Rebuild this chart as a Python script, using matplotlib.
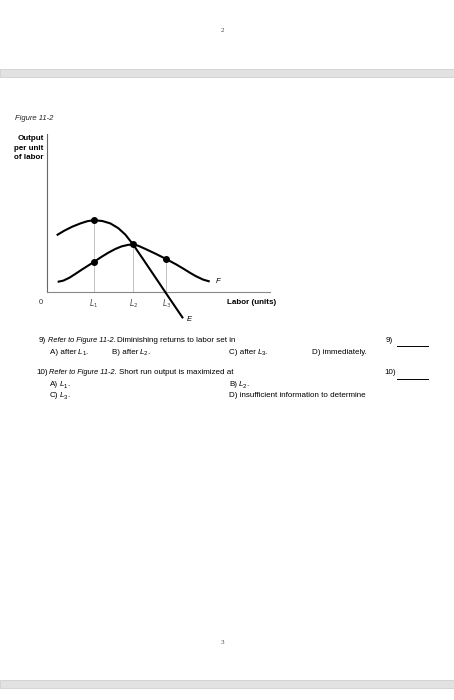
import matplotlib
matplotlib.use("Agg")
import matplotlib.pyplot as plt
from matplotlib.patches import Rectangle

# Page / font setup
plt.rcParams['font.family'] = ['Liberation Sans Narrow', 'Liberation Sans', 'DejaVu Sans']
plt.rcParams['mathtext.fontset'] = 'custom'
plt.rcParams['mathtext.rm'] = 'Liberation Sans Narrow'
plt.rcParams['mathtext.it'] = 'Liberation Sans Narrow:italic'

W, H = 454, 700

# Data (labor units, output per unit of labor)
e_labor = [0.51, 0.9, 1.3, 1.7, 2.05, 2.38, 2.8, 3.2, 3.6, 3.95, 4.34, 4.84, 5.51, 6.09, 6.84]
e_output = [3.56, 3.85, 4.1, 4.3, 4.44, 4.5, 4.45, 4.3, 4.0, 3.6, 2.98, 2.06, 0.82, -0.26, -1.64]

f_labor = [0.56, 0.85, 1.15, 1.45, 1.8, 2.38, 2.75, 3.09, 3.45, 3.76, 4.1, 4.34,
           4.6, 5.01, 5.5, 6.01, 6.5, 6.84, 7.2, 7.51, 7.85, 8.18]
f_output = [0.64, 0.72, 0.9, 1.14, 1.43, 1.89, 2.2, 2.46, 2.7, 2.86, 2.96, 2.98,
            2.9, 2.67, 2.38, 2.06, 1.73, 1.48, 1.2, 0.98, 0.78, 0.66]

tick_pos = [2.38, 4.34, 6.01]
tick_labels = ['$L_1$', '$L_2$', '$L_3$']
e_marks = [4.5]               # E at L1
f_marks = [1.89, 2.98, 2.06]  # F at L1, L2, L3


def fx(x):
    return x / W


def fy(y):
    return 1 - y / H


fig = plt.figure(figsize=(W / 100, H / 100), dpi=100)
fig.patch.set_facecolor('white')
renderer = fig.canvas.get_renderer()

# grey page separators
for y0, y1 in [(69, 77), (680, 688)]:
    fig.patches.append(Rectangle((0, fy(y1)), 1, fy(y0) - fy(y1), transform=fig.transFigure,
                                 facecolor='#e2e2e2', edgecolor='#cfcfcf', lw=0.6))

fig.text(fx(222), fy(30), '2', fontsize=5, family='Liberation Serif', ha='center', va='center', color='#444')
fig.text(fx(222), fy(643), '3', fontsize=5, family='Liberation Serif', ha='center', va='center', color='#444')

# Chart axes
ax = fig.add_axes([fx(46.5), fy(324), (270 - 46.5) / W, (324 - 134) / H])
ax.set_xlim(0, 11.2)
ax.set_ylim(-2, 9.9)
ax.patch.set_alpha(0)
for s in ['top', 'right']:
    ax.spines[s].set_visible(False)
ax.spines['bottom'].set_position(('data', 0))
ax.spines['left'].set_bounds(0, 9.9)
ax.spines['left'].set_color('#666')
ax.spines['bottom'].set_color('#888')
ax.spines['left'].set_linewidth(0.8)
ax.spines['bottom'].set_linewidth(0.8)
ax.set_yticks([])
ax.set_xticks(tick_pos)
ax.set_xticklabels(tick_labels, fontsize=5.5, color='#444')
ax.tick_params(axis='x', length=0, pad=4)

# guide lines
for x, y in zip(tick_pos, [e_marks[0], f_marks[1], f_marks[2]]):
    ax.plot([x, x], [0, y], color='#c4c4c4', lw=0.7, zorder=1)

ax.plot(e_labor, e_output, color='black', lw=1.5, solid_joinstyle='round', solid_capstyle='butt', clip_on=False, zorder=3)
ax.plot(f_labor, f_output, color='black', lw=1.5, solid_joinstyle='round', solid_capstyle='butt', clip_on=False, zorder=3)
ax.plot(tick_pos[:1], e_marks, 'o', color='black', ms=4, zorder=4)
ax.plot(tick_pos, f_marks, 'o', color='black', ms=4, zorder=4)

ax.text(e_labor[-1] + 0.2, e_output[-1] - 0.1, 'E', fontsize=5.5, style='italic', ha='left', va='center')
ax.text(f_labor[-1] + 0.3, f_output[-1], 'F', fontsize=5.5, style='italic', ha='left', va='center')

# Labels around chart
fig.text(fx(15), fy(118), 'Figure 11-2', fontsize=5.5, style='italic', ha='left', va='center', color='#222')
for i, line in enumerate(['Output', 'per unit', 'of labor']):
    fig.text(fx(43.5), fy(138.5 + 9.5 * i), line, fontsize=5.8, weight='bold', ha='right', va='center')
fig.text(fx(41), fy(302), '0', fontsize=5.5, ha='center', va='center', color='#333')
fig.text(fx(227), fy(302), 'Labor (units)', fontsize=5.8, weight='bold', ha='left', va='center')

# Questions
fs = 5.8


def chain(x, y, parts):
    # put text pieces one after another on a line
    # part = (text, style, size, dy in px, gap after in px)
    for s, style, size, dy, gap in parts:
        t = fig.text(fx(x), fy(y + dy), s, fontsize=size, style=style, ha='left', va='center')
        x = t.get_window_extent(renderer).x1 + gap


def ell(n):
    # italic L with a small subscript
    return [('L', 'italic', fs, 0, -0.5), (str(n), 'normal', 4.3, 2, -0.2)]


def q_head(x, y, num, rest):
    chain(x, y, [(num, 'normal', fs, 0, 1.7), ('Refer to Figure 11-2.', 'italic', 5.3, 0, 1.7),
                 (rest, 'normal', fs, 0, 0)])


q_head(39, 341, '9)', 'Diminishing returns to labor set in')
chain(50, 352, [('A) after', 'normal', fs, 0, 1.6)] + ell(1) + [('.', 'normal', fs, 0, 0)])
chain(112, 352, [('B) after', 'normal', fs, 0, 1.6)] + ell(2) + [('.', 'normal', fs, 0, 0)])
chain(229, 352, [('C) after', 'normal', fs, 0, 1.6)] + ell(3) + [('.', 'normal', fs, 0, 0)])
fig.text(fx(312), fy(352), 'D) immediately.', fontsize=fs, ha='left', va='center')
fig.text(fx(386), fy(341), '9)', fontsize=fs, ha='left', va='center')
fig.lines.append(plt.Line2D([fx(397), fx(428)], [fy(346), fy(346)], transform=fig.transFigure, color='black', lw=0.7))

q_head(36, 373, '10)', 'Short run output is maximized at')
chain(50, 384.5, [('A)', 'normal', fs, 0, 1.6)] + ell(1) + [('.', 'normal', fs, 0, 0)])
chain(229, 384.5, [('B)', 'normal', fs, 0, 1.6)] + ell(2) + [('.', 'normal', fs, 0, 0)])
chain(50, 395.5, [('C)', 'normal', fs, 0, 1.6)] + ell(3) + [('.', 'normal', fs, 0, 0)])
fig.text(fx(229), fy(395.5), 'D) insufficient information to determine', fontsize=fs, ha='left', va='center')
fig.text(fx(384), fy(373), '10)', fontsize=fs, ha='left', va='center')
fig.lines.append(plt.Line2D([fx(397), fx(428)], [fy(379), fy(379)], transform=fig.transFigure, color='black', lw=0.7))

fig.savefig('out.png', dpi=100)
